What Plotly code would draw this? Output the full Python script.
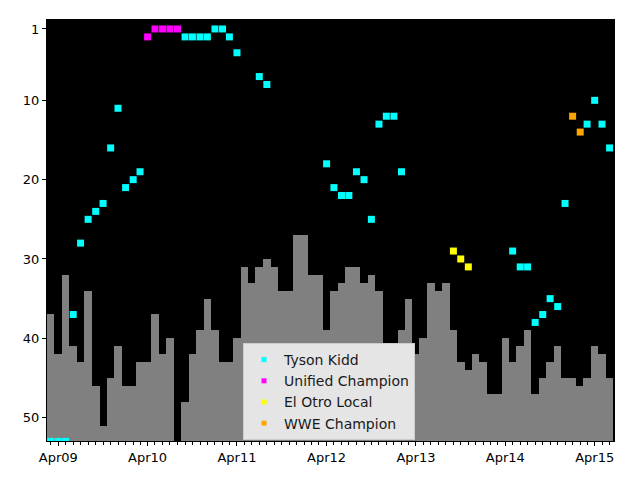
import plotly.graph_objects as go
import pandas as pd

# Monthly bar series (rank values; None = no bar)
bar_months = pd.date_range("2009-03-01", periods=76, freq="MS")
bar_values = [37, 42, 32, 41, 43, 34, 46, 51, 45, 41, 46, 46, 43, 43, 37, 42, 40, None,
              48, 42, 39, 35, 39, 43, 43, 40, 31, 33, 31, 30, 31, 34, 34, 27, 27, 32,
              32, 39, 34, 33, 31, 31, 33, 32, 34, 44, 44, 39, 35, 42, 40, 33, 34, 33,
              39, 43, 44, 42, 43, 47, 47, 40, 43, 41, 39, 47, 45, 43, 41, 45, 45, 46,
              45, 41, 42, 45]

kidd_dates = ["2009-03-01", "2009-04-01", "2009-05-01", "2009-06-01", "2009-07-01",
              "2009-08-01", "2009-09-01", "2009-10-01", "2009-11-01", "2009-12-01",
              "2010-01-01", "2010-02-01", "2010-03-01", "2010-09-01", "2010-10-01",
              "2010-11-01", "2010-12-01", "2011-01-01", "2011-02-01", "2011-03-01",
              "2011-04-01", "2011-07-01", "2011-08-01", "2012-04-01", "2012-05-01",
              "2012-06-01", "2012-07-01", "2012-08-01", "2012-09-01", "2012-10-01",
              "2012-11-01", "2012-12-01", "2013-01-01", "2013-02-01", "2014-05-01",
              "2014-06-01", "2014-07-01", "2014-08-01", "2014-09-01", "2014-10-01",
              "2014-11-01", "2014-12-01", "2015-03-01", "2015-04-01", "2015-05-01",
              "2015-06-01"]
kidd_ranks = [53, 53, 53, 37, 28, 25, 24, 23, 16, 11, 21, 20, 19, 2, 2, 2, 2, 1, 1, 2,
              4, 7, 8, 18, 21, 22, 22, 19, 20, 25, 13, 12, 12, 19, 29, 31, 31, 38, 37,
              35, 36, 23, 13, 10, 13, 16]

unified_dates = ["2010-04-01", "2010-05-01", "2010-06-01", "2010-07-01", "2010-08-01"]
unified_ranks = [2, 1, 1, 1, 1]

otro_dates = ["2013-09-01", "2013-10-01", "2013-11-01"]
otro_ranks = [29, 30, 31]

wwe_dates = ["2015-01-01", "2015-02-01"]
wwe_ranks = [12, 14]

tick_dates = ["2009-04-01", "2010-04-01", "2011-04-01", "2012-04-01",
              "2013-04-01", "2014-04-01", "2015-04-01"]
tick_labels = ["Apr09", "Apr10", "Apr11", "Apr12", "Apr13", "Apr14", "Apr15"]
y_ticks = [1, 10, 20, 30, 40, 50]

BOTTOM = 53
bx = [d for d, v in zip(bar_months, bar_values) if v is not None]
bv = [v for v in bar_values if v is not None]

fig = go.Figure()
fig.add_trace(go.Bar(
    x=bx, y=[BOTTOM - v for v in bv], base=bv,
    width=31 * 24 * 3600 * 1000, marker=dict(color="#808080", line=dict(width=0)),
    showlegend=False, hoverinfo="skip"))

series = [
    ("Tyson Kidd", kidd_dates, kidd_ranks, "#00FFFF"),
    ("Unified Champion", unified_dates, unified_ranks, "#FF00FF"),
    ("El Otro Local", otro_dates, otro_ranks, "#FFFF00"),
    ("WWE Champion", wwe_dates, wwe_ranks, "#FFA500"),
]
for name, xs, ys, col in series:
    fig.add_trace(go.Scatter(
        x=xs, y=ys, mode="markers", name=name, showlegend=False,
        marker=dict(symbol="square", size=7, color=col, line=dict(width=0))))
# legend-only entries with the smaller legend swatch
for name, xs, ys, col in series:
    fig.add_trace(go.Scatter(
        x=[None], y=[None], mode="markers", name=name,
        marker=dict(symbol="square", size=5, color=col, line=dict(width=0))))

fig.update_layout(
    width=640, height=480,
    margin=dict(l=47, r=26, t=20, b=39),
    paper_bgcolor="white", plot_bgcolor="black",
    font=dict(family="DejaVu Sans", size=13, color="black"),
    bargap=0,
    legend=dict(x=0.3457, y=0.2328, xanchor="left", yanchor="top",
                bgcolor="#E5E5E5", bordercolor="#CCCCCC", borderwidth=1,
                font=dict(size=14, color="#1a1a1a"), tracegroupgap=0),
)
fig.update_xaxes(
    type="date", range=["2009-02-14", "2015-06-19"],
    tickvals=tick_dates, ticktext=tick_labels,
    ticks="outside", ticklen=4, tickcolor="black",
    minor=dict(dtick="M1", tick0="2009-03-01", ticks="outside", ticklen=3,
               tickcolor="black", showgrid=False),
    showgrid=False, zeroline=False,
    showline=True, linecolor="black", linewidth=1, mirror=True)
fig.update_yaxes(
    range=[52.95, -0.13], tickvals=y_ticks,
    ticks="outside", ticklen=4, tickcolor="black",
    showgrid=False, zeroline=False,
    showline=True, linecolor="black", linewidth=1, mirror=True)

fig.write_html("out.html")
